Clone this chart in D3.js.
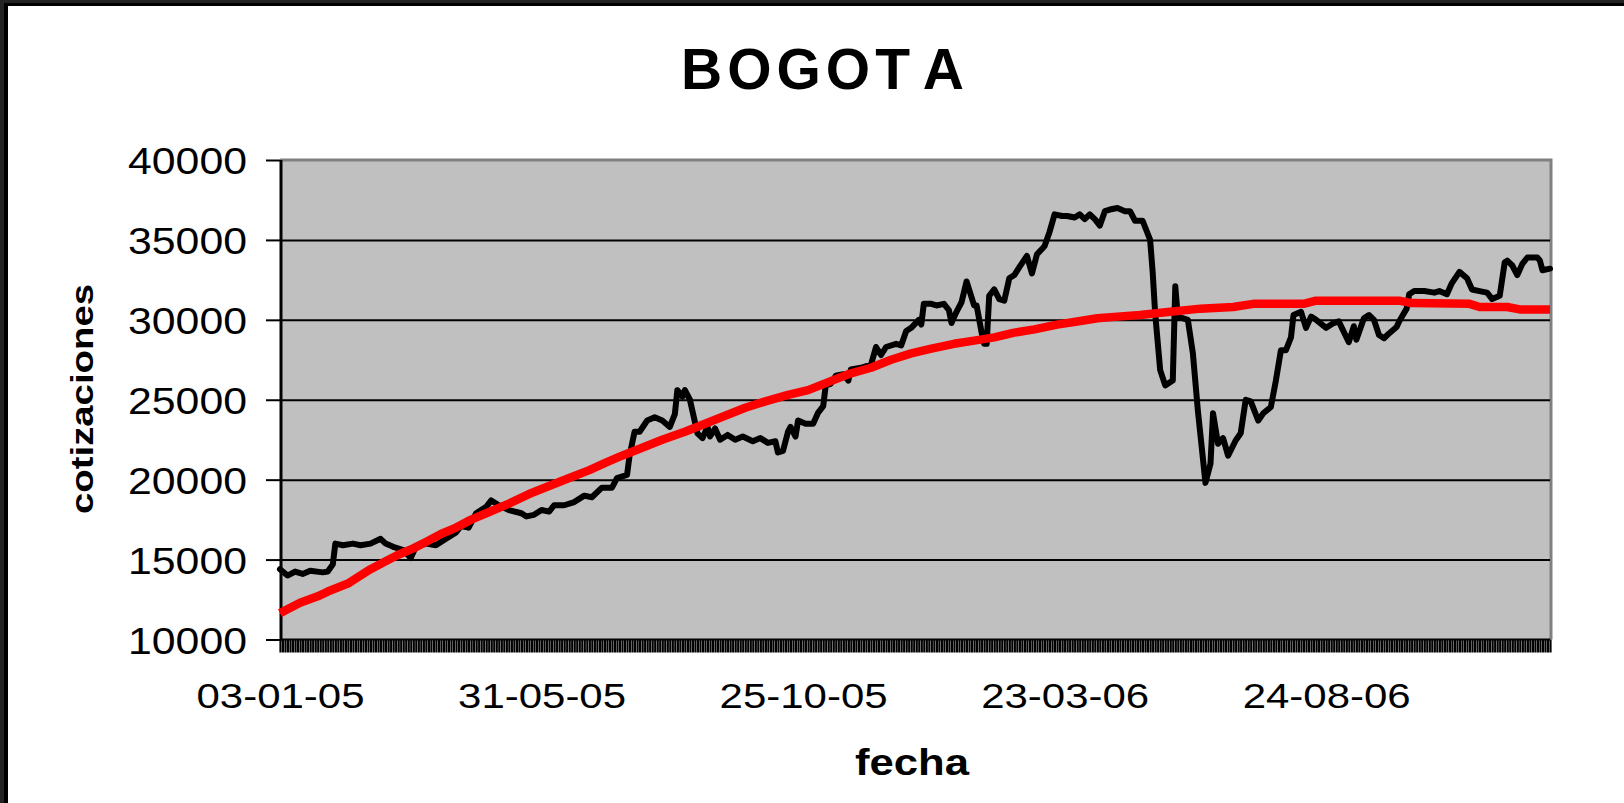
<!DOCTYPE html>
<html>
<head>
<meta charset="utf-8">
<script src="https://cdn.jsdelivr.net/npm/d3@7"></script>
<style>
  body { margin: 0; background: #fff; }
  text { font-family: "Liberation Sans", Arial, sans-serif; }
</style>
</head>
<body>
<div id="chart"></div>
<script>
// DATOS
const titulo = "BOGOTA"
const ejeX = "fecha"
const ejeY = "cotizaciones"
const nDias = 506
const etiquetasFecha = ["03-01-05", "31-05-05", "25-10-05", "23-03-06", "24-08-06"]
const posEtiquetas = [0, 104, 208, 312, 416]
const ticksY = [10000, 15000, 20000, 25000, 30000, 35000, 40000]

// cotizacion diaria (dia, valor)
const cotizacion = [
  [0,14400],[3,14000],[6,14250],[9,14100],[12,14300],[17,14200],[19,14250],[21,14700],[22,16000],[25,15900],
  [29,16000],[32,15900],[36,16000],[40,16300],[42,16000],[45,15800],[49,15600],[52,15100],[54,15800],[58,16000],
  [62,15900],[66,16300],[70,16700],[72,17100],[75,17000],[78,17900],[82,18300],[84,18700],[87,18400],[91,18100],
  [96,17900],[98,17700],[101,17800],[104,18100],[107,18000],[109,18400],[113,18400],[117,18600],[121,19000],[124,18900],
  [128,19500],[132,19500],[134,20100],[138,20300],[139,21500],[141,23000],[143,23000],[146,23700],[149,23900],[152,23700],
  [155,23300],[157,24100],[158,25600],[160,25200],[161,25600],[163,25000],[166,22900],[168,22600],[170,23300],[171,22700],
  [173,23200],[175,22500],[178,22800],[181,22500],[184,22700],[188,22400],[191,22600],[194,22300],[197,22400],[198,21700],
  [200,21800],[202,23000],[203,23300],[205,22700],[206,23700],[209,23500],[212,23500],[214,24200],[216,24600],[217,25900],
  [219,26000],[221,26500],[224,26600],[226,26200],[227,26900],[231,27000],[235,27200],[237,28300],[239,27800],[241,28300],
  [245,28500],[247,28400],[249,29300],[251,29500],[254,30000],[255,29700],[256,31000],[259,31000],[261,30900],[264,31000],
  [266,30600],[267,29800],[269,30500],[271,31100],[273,32400],[274,31900],[276,30900],[277,30900],[279,29200],[280,28500],
  [281,28500],[282,31500],[284,31900],[286,31300],[288,31200],[290,32600],[292,32800],[294,33300],[297,34000],[299,32900],
  [301,34100],[304,34600],[306,35500],[308,36600],[311,36500],[313,36500],[316,36400],[318,36600],[320,36300],[322,36600],
  [324,36300],[326,35900],[328,36800],[330,36900],[333,37000],[336,36800],[338,36800],[340,36200],[343,36200],[345,35400],
  [346,35000],[347,33000],[348,30400],[350,26850],[352,25900],[355,26200],[356,32100],[357,30200],[361,30000],[363,27900],
  [365,24300],[368,19800],[370,21000],[371,24150],[373,22250],[375,22600],[377,21500],[380,22450],[382,22900],[384,25000],
  [386,24900],[389,23700],[391,24150],[394,24550],[396,26200],[398,28100],[400,28100],[402,28900],[403,30300],[406,30500],
  [408,29500],[410,30200],[412,30000],[416,29500],[419,29800],[421,29900],[425,28600],[427,29600],[428,28750],[431,30100],
  [433,30300],[435,30000],[437,29050],[439,28850],[441,29150],[444,29550],[445,29900],[448,30700],[449,31600],[451,31800],
  [455,31800],[459,31700],[461,31800],[464,31600],[466,32300],[469,33000],[472,32600],[474,31900],[477,31800],[480,31700],
  [482,31300],[485,31500],[487,33600],[488,33700],[490,33400],[492,32800],[494,33500],[496,33900],[500,33900],[501,33700],
  [502,33100],[505,33200]
]

// tendencia (dia, valor)
const tendencia = [
  [0,11650],[8,12300],[15,12700],[19,13000],[27,13500],[31,13900],[36,14400],[42,14900],[47,15300],[53,15700],
  [58,16100],[64,16600],[70,17000],[76,17500],[82,17900],[91,18500],[99,19100],[107,19600],[115,20100],[123,20600],
  [130,21100],[136,21500],[144,22000],[152,22500],[161,23000],[169,23500],[177,24000],[185,24500],[193,24900],[202,25300],
  [210,25600],[218,26100],[226,26600],[235,27000],[243,27500],[251,27900],[259,28200],[268,28500],[276,28700],[284,28900],
  [292,29200],[300,29400],[309,29700],[317,29900],[325,30100],[333,30200],[342,30300],[354,30500],[366,30700],[379,30800],
  [387,31000],[407,31000],[412,31200],[445,31200],[450,31050],[473,31000],[477,30800],[488,30800],[493,30650],[505,30650]
]

// DIMENSIONES
const dimensions = {
  width: 1624,
  height: 803,
  margin: { top: 160, right: 74, bottom: 163.5, left: 280 }
}
dimensions.boundedWidth = dimensions.width - dimensions.margin.left - dimensions.margin.right
dimensions.boundedHeight = dimensions.height - dimensions.margin.top - dimensions.margin.bottom

const wrapper = d3.select("#chart")
  .append("svg")
  .attr("width", dimensions.width)
  .attr("height", dimensions.height)

// marco
wrapper.append("rect").attr("width", dimensions.width).attr("height", dimensions.height).attr("fill", "#242424")
wrapper.append("rect").attr("x", 4).attr("y", 3).attr("width", dimensions.width).attr("height", dimensions.height).attr("fill", "#000")
wrapper.append("rect").attr("x", 8).attr("y", 6).attr("width", dimensions.width).attr("height", dimensions.height).attr("fill", "#fff")

const bounds = wrapper.append("g")
  .attr("transform", `translate(${dimensions.margin.left},${dimensions.margin.top})`)

// ESCALAS
const xScale = d3.scaleLinear()
  .domain([0, nDias - 1])
  .range([0, dimensions.boundedWidth])
const yScale = d3.scaleLinear()
  .domain([10000, 40000])
  .range([dimensions.boundedHeight, 0])

// area de trazado
bounds.append("rect")
  .attr("width", dimensions.boundedWidth)
  .attr("height", dimensions.boundedHeight)
  .attr("fill", "#c0c0c0")
bounds.append("path")
  .attr("d", `M0,0H${dimensions.boundedWidth + 1}V${dimensions.boundedHeight}`)
  .attr("fill", "none")
  .attr("stroke", "#808080")
  .attr("stroke-width", 3)

// lineas de division
const grid = bounds.append("g")
  .call(d3.axisLeft(yScale).tickValues(ticksY.slice(1, -1)).tickSize(-dimensions.boundedWidth).tickFormat(""))
grid.select(".domain").remove()
grid.selectAll("line").attr("stroke", "#000").attr("stroke-width", 2)

// EJE Y
const yAxis = bounds.append("g")
  .call(d3.axisLeft(yScale).tickValues(ticksY).tickSize(14).tickPadding(20).tickFormat(d3.format("d")))
yAxis.select(".domain").attr("stroke", "#000").attr("stroke-width", 3).attr("d", `M1,0V${dimensions.boundedHeight + 1}`)
yAxis.selectAll(".tick line").attr("stroke", "#000").attr("stroke-width", 2)
yAxis.selectAll(".tick text")
  .attr("fill", "#000")
  .attr("dy", null)
  .attr("y", 13.5)
  .attr("x", -33)
  .style("font-size", "37px")
  .attr("textLength", 119)
  .attr("lengthAdjust", "spacingAndGlyphs")

// EJE X: marcas densas de categoria
const xTicks = bounds.append("g")
  .attr("transform", `translate(0,${dimensions.boundedHeight})`)
  .call(d3.axisBottom(xScale).tickValues(d3.range(nDias)).tickSize(13).tickFormat(""))
xTicks.select(".domain").attr("stroke", "#000").attr("stroke-width", 2).attr("d", `M0,0H${dimensions.boundedWidth}`)
xTicks.selectAll(".tick line").attr("stroke", "#000").attr("stroke-width", 2.2)

const xLabels = bounds.append("g")
  .attr("transform", `translate(0,${dimensions.boundedHeight})`)
  .call(d3.axisBottom(xScale).tickValues(posEtiquetas).tickSize(0)
    .tickFormat((d, i) => etiquetasFecha[i]))
xLabels.select(".domain").remove()
xLabels.selectAll(".tick text")
  .attr("fill", "#000")
  .attr("dy", null)
  .attr("y", 68.5)
  .style("font-size", "35px")
  .attr("textLength", 168)
  .attr("lengthAdjust", "spacingAndGlyphs")

// SERIES
const lineGenerator = d3.line()
  .x(d => xScale(d[0]))
  .y(d => yScale(d[1]))

bounds.append("path")
  .datum(cotizacion)
  .attr("d", lineGenerator)
  .attr("fill", "none")
  .attr("stroke", "#000")
  .attr("stroke-width", 6)
  .attr("stroke-linejoin", "round")
  .attr("stroke-linecap", "round")

bounds.append("path")
  .datum(tendencia)
  .attr("d", lineGenerator)
  .attr("fill", "none")
  .attr("stroke", "#ff0000")
  .attr("stroke-width", 8.5)
  .attr("stroke-linejoin", "round")

// TITULOS
const title = wrapper.append("text")
  .attr("x", 681)
  .attr("y", 89)
  .style("font-size", "57px")
  .style("font-weight", "bold")
  .style("letter-spacing", "5px")
title.append("tspan").text(titulo.slice(0, -1))
title.append("tspan").attr("dx", 12).text(titulo.slice(-1))

wrapper.append("text")
  .attr("x", dimensions.margin.left + dimensions.boundedWidth / 2 - 3)
  .attr("y", 775)
  .attr("text-anchor", "middle")
  .style("font-size", "36px")
  .style("font-weight", "bold")
  .attr("textLength", 114)
  .attr("lengthAdjust", "spacingAndGlyphs")
  .text(ejeX)

wrapper.append("text")
  .attr("transform", "translate(93,399) rotate(-90)")
  .attr("text-anchor", "middle")
  .style("font-size", "32px")
  .style("font-weight", "bold")
  .attr("textLength", 230)
  .attr("lengthAdjust", "spacingAndGlyphs")
  .text(ejeY)
</script>
</body>
</html>
